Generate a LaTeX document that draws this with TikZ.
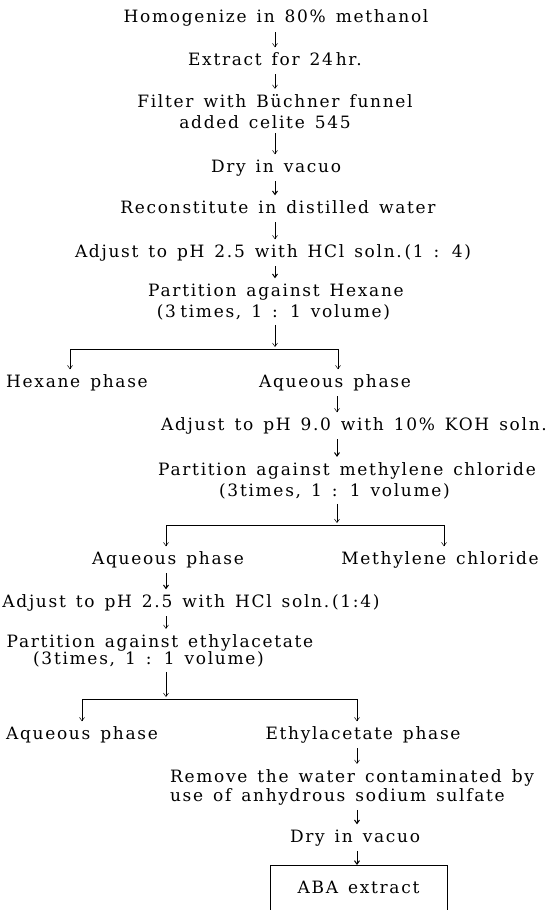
\documentclass[tikz,border=0pt]{standalone}
\usepackage{fontspec}
\usetikzlibrary{arrows.meta}
\newfontfamily\flowfam{DejaVu Serif}[LetterSpace=10, WordSpace=1.4]
\newcommand{\flowfont}{\flowfam\fontsize{17}{21}\selectfont}

\begin{document}
\begin{tikzpicture}[x=1pt, y=-1pt,
  stepnode/.style={font=\flowfont, inner sep=0pt, anchor=base, text height=12.5pt, text depth=4pt},
  twoline/.style={font=\flowfont, inner sep=0pt, anchor=base, align=center},
  flow/.style={-{Straight Barb[length=3.5pt, width=5pt]}, line width=0.5pt, shorten <=5pt, shorten >=5pt},
  flowb/.style={flow, line width=1pt},
  drop/.style={flow, shorten <=0pt},
  rule/.style={line width=0.6pt},
]
\useasboundingbox (0,0) rectangle (548,910);

% main column
\node[stepnode] (homog) at (276,23) {Homogenize in 80\% methanol};
\node[stepnode] (extr) at (275,65) {Extract for 24\,hr.};
\node[twoline] (filt) at (275,128) {Filter with Büchner funnel\\added celite 545\hspace*{20pt}};
\node[stepnode] (dry1) at (276,172) {Dry in vacuo};
\node[stepnode] (recon) at (278,213) {Reconstitute in distilled water};
\node[stepnode] (adj1) at (273,257) {Adjust to pH 2.5 with HCl soln.\,(1 : 4)};
\node[twoline] (part1) at (276,317) {Partition against Hexane\\(3\hspace{0.25em}times, 1 : 1 volume)\hspace*{5pt}};

% hexane split
\node[stepnode] (hex) at (77,387) {Hexane phase};
\node[stepnode] (aq1) at (335,387) {Aqueous phase};
\node[stepnode] (adj2) at (354,430) {Adjust to pH 9.0 with 10\% KOH soln.};
\node[twoline] (part2) at (347,496) {Partition against methylene chloride\\(3times, 1 : 1 volume)\hspace*{25pt}};

% methylene chloride split
\node[stepnode] (aq2) at (168,564) {Aqueous phase};
\node[stepnode] (mecl) at (440,564) {Methylene chloride};
\node[stepnode] (adj3) at (191,607) {Adjust to pH 2.5 with HCl soln.\,(1:4)};
\node[twoline] (part3) at (160,664) {Partition against ethylacetate\\[-4pt](3times, 1 : 1 volume)\hspace*{23pt}};

% ethylacetate split
\node[stepnode] (aq3) at (82,739) {Aqueous phase};
\node[stepnode] (ethyl) at (363,739) {Ethylacetate phase};
\node[twoline, align=left] (remove) at (352,801) {Remove the water contaminated by\\[-2pt]use of anhydrous sodium sulfate};
\node[stepnode] (dry2) at (355,842) {Dry in vacuo};
\node[stepnode, minimum width=177pt, minimum height=45pt, anchor=north, text depth=1pt] (aba) at (358.5,865) {ABA extract};

\coordinate (c1) at (275,0);
\coordinate (c2) at (337,0);
\coordinate (c3) at (166,0);
\coordinate (c4) at (357,0);
\coordinate (s1) at (275,349);
\coordinate (s1l) at (70,349);
\coordinate (s1r) at (338,349);
\coordinate (s2) at (337,525);
\coordinate (s2l) at (166,525);
\coordinate (s2r) at (444,525);
\coordinate (s3) at (166,699);
\coordinate (s3l) at (82,699);
\coordinate (s3r) at (357,699);

\foreach \a/\b in {homog/extr, extr/filt, filt/dry1, recon/adj1}
  \draw[flow] (\a.south -| c1) -- (\b.north -| c1);
\foreach \a/\b in {dry1/recon, adj1/part1}
  \draw[flowb] (\a.south -| c1) -- (\b.north -| c1);
\draw[flow, shorten >=2pt] (part1.south -| c1) -- (s1);
\draw[rule] (s1l) -- (s1r);
\draw[drop] (s1l) -- (hex.north -| s1l);
\draw[drop] (s1r) -- (aq1.north -| s1r);

\draw[flow] (aq1.south -| c2) -- (adj2.north -| c2);
\draw[flowb] (adj2.south -| c2) -- (part2.north -| c2);
\draw[flow, shorten >=2pt] (part2.south -| c2) -- (s2);
\draw[rule] (s2l) -- (s2r);
\draw[drop] (s2l) -- (aq2.north -| s2l);
\draw[drop] (s2r) -- (mecl.north -| s2r);

\draw[flowb] (aq2.south -| c3) -- (adj3.north -| c3);
\draw[flow] (adj3.south -| c3) -- (part3.north -| c3);
\draw[flow, shorten >=2pt] (part3.south -| c3) -- (s3);
\draw[rule] (s3l) -- (s3r);
\draw[drop] (s3l) -- (aq3.north -| s3l);
\draw[drop] (s3r) -- (ethyl.north -| s3r);

\draw[flow] (ethyl.south -| c4) -- (remove.north -| c4);
\draw[flowb] (remove.south -| c4) -- (dry2.north -| c4);
\draw[flowb, shorten >=0pt] (dry2.south -| c4) -- (aba.north -| c4);
\draw[rule] (aba.south west) |- (aba.north east) -- (aba.south east);
\end{tikzpicture}
\end{document}
